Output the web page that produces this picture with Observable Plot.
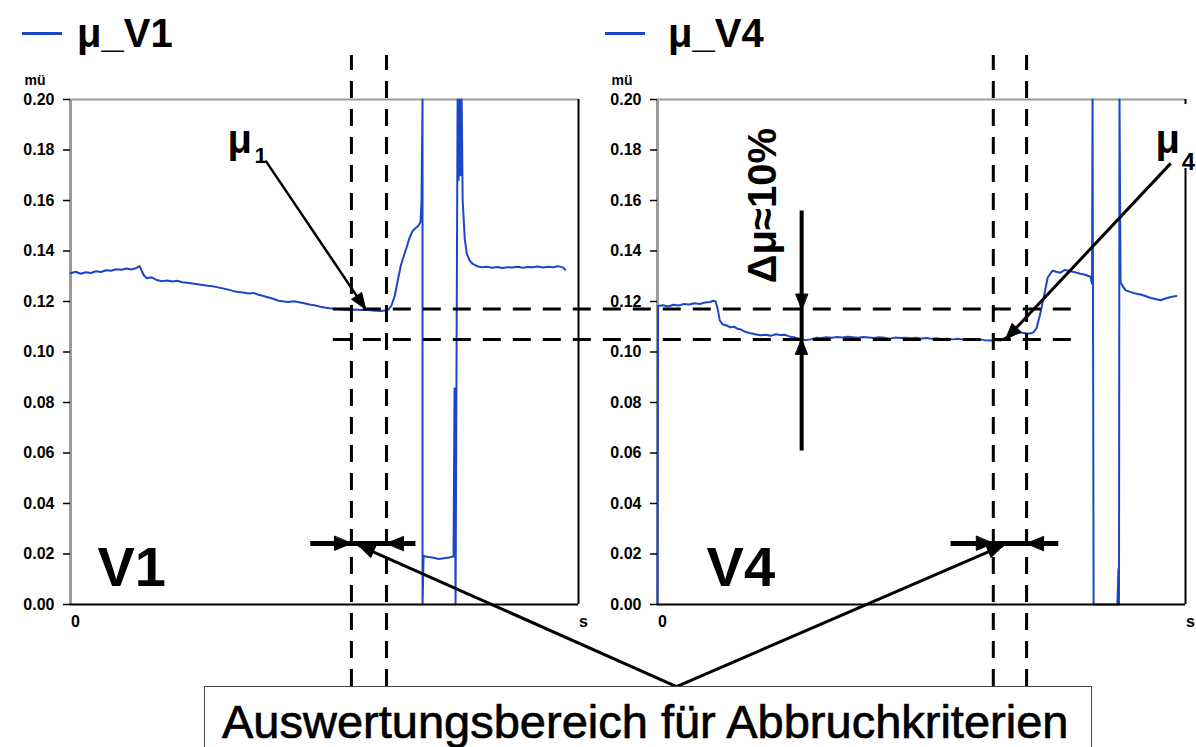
<!DOCTYPE html>
<html>
<head>
<meta charset="utf-8">
<script src="https://cdn.jsdelivr.net/npm/d3@7"></script>
<script src="https://cdn.jsdelivr.net/npm/@observablehq/plot@0.6"></script>
<style>
  html, body { margin: 0; padding: 0; background: #fff; }
  #chart { position: relative; width: 1196px; height: 747px; overflow: hidden;
           font-family: "Liberation Sans", Arial, Helvetica, sans-serif; }
  #chart svg { position: absolute; left: 0; top: 0; }
  .swatch { position: absolute; height: 2.5px; width: 40px; background: #1c46c8; }
  .key { position: absolute; font: bold 40px/40px "Liberation Sans", Arial, sans-serif; color: #000; white-space: nowrap; }
  .box { position: absolute; background: #fff; border: 1.5px solid #444; border-bottom: none; }
  .caption { position: absolute; font: 47px/47px "Liberation Sans", Arial, sans-serif; color: #000; white-space: nowrap;
             -webkit-text-stroke: 0.7px #000; }
</style>
</head>
<body>
<div id="chart"></div>
<script>
// Axis ticks shared by both panels
const yTicks = [0, 0.02, 0.04, 0.06, 0.08, 0.10, 0.12, 0.14, 0.16, 0.18, 0.20];
const xTicks = [0, 100];
const xTickLabels = ["0", "s"];
const seriesNames = ["μ_V1", "μ_V4"];
const panelLabels = ["V1", "V4"];

// Friction coefficient, run V1 (time as % of the run)
const v1Time = [0,1,2,3,4,5,6,7,8,9,10,11,12,13,13.6,14,14.4,15,16,17,18,19,20,21,22,23,24,25,26,27,28,29,30,31,32,33,34,35,36,37,38,39,40,41,42,43,44,45,46,47,48,49,50,51,52,53,54,55,56,57,58,59,60,61,62,62.6,63.2,63.8,64.4,65,65.6,66.1,66.7,67.3,67.9,68.5,68.9,69.1,69.3,69.3,69.5,70.5,71.5,72.5,73.5,74.5,75.4,75.6,75.8,76.2,76.4,76.6,76.8,77.0,77.2,77.6,78.0,78.5,79.1,80,81,82,83,84,85,86,87,88,89,90,91,92,93,94,95,96,97,97.4];
const v1Mu = [0.1312,0.1318,0.1310,0.1316,0.1313,0.1320,0.1317,0.1324,0.1322,0.1328,0.1326,0.1331,0.1327,0.1333,0.1340,0.1322,0.1305,0.1292,0.1296,0.1285,0.1280,0.1283,0.1279,0.1282,0.1276,0.1274,0.1271,0.1268,0.1265,0.1262,0.1260,0.1256,0.1252,0.1247,0.1242,0.1238,0.1236,0.1232,0.1234,0.1227,0.1222,0.1216,0.1210,0.1203,0.1200,0.1198,0.1201,0.1197,0.1193,0.1188,0.1185,0.1180,0.1176,0.1173,0.1171,0.1169,0.1167,0.1165,0.1168,0.1166,0.1167,0.1165,0.1163,0.1162,0.1164,0.1168,0.1185,0.1220,0.1280,0.1340,0.1380,0.1410,0.1450,0.1478,0.1490,0.1500,0.1515,0.1600,0.2000,0.0000,0.0192,0.0188,0.0185,0.0180,0.0183,0.0186,0.0190,0.0855,0.0000,0.2000,0.1680,0.2000,0.1700,0.2000,0.1600,0.1450,0.1390,0.1365,0.1350,0.1340,0.1336,0.1338,0.1334,0.1337,0.1333,0.1336,0.1335,0.1338,0.1334,0.1337,0.1336,0.1339,0.1335,0.1338,0.1336,0.1340,0.1334,0.1326];

// Friction coefficient, run V4
const v4Time = [0,0.1,1,2,3,4,5,6,7,8,9,10,10.6,11.0,11.4,11.8,12.3,13.1,13.8,14.5,15.2,15.9,16.6,17.6,18.5,19.5,20.5,21.4,22.4,23.3,24.2,25.2,26.1,27.1,28.0,29.0,30.0,31,32,33,34,35,36,37,38,39,40,41,42,43,44,45,46,47,48,49,50,51,52,53,54,55,56,57,58,59,60,61,62,63,64,65,66,66.9,67.8,68.7,69.7,70.6,71.3,71.8,72.5,73.3,73.9,74.8,75.5,76.3,77.2,78.2,79.1,80.1,81.0,82.0,82.3,82.4,82.6,87.1,87.3,87.4,87.5,87.7,88.6,89.5,90.5,91.5,92.4,93.4,94.3,95.3,96.2,97.2,98.3];
const v4Mu = [0,0.1182,0.1185,0.1180,0.1187,0.1184,0.1190,0.1188,0.1193,0.1190,0.1196,0.1198,0.1203,0.1200,0.1170,0.1125,0.1110,0.1105,0.1098,0.1100,0.1092,0.1088,0.1080,0.1074,0.1070,0.1066,0.1068,0.1064,0.1070,0.1067,0.1068,0.1060,0.1057,0.1052,0.1047,0.1050,0.1056,0.1055,0.1058,0.1056,0.1059,0.1057,0.1060,0.1058,0.1056,0.1059,0.1057,0.1055,0.1058,0.1056,0.1053,0.1057,0.1055,0.1056,0.1054,0.1056,0.1053,0.1055,0.1052,0.1054,0.1051,0.1053,0.1050,0.1052,0.1049,0.1051,0.1048,0.1050,0.1047,0.1046,0.1048,0.1046,0.1058,0.1065,0.1072,0.1077,0.1074,0.1073,0.1080,0.1095,0.1152,0.1232,0.1295,0.1322,0.1318,0.1314,0.1325,0.1320,0.1316,0.1310,0.1306,0.1298,0.1270,0.2000,0.0000,0.0000,0.0140,0.0000,0.2000,0.1275,0.1245,0.1238,0.1232,0.1228,0.1222,0.1214,0.1210,0.1205,0.1212,0.1218,0.1222];

// Reference levels: μ1 (end of V1) and μ4 (end of V4)
const muLevels = [0.117, 0.105];
// Evaluation windows (start, end) in each run
const v1Window = [55.3, 62.2];
const v4Window = [63.6, 69.9];
const deltaLabel = "Δμ≈10%";
const captionText = "Auswertungsbereich für Abbruchkriterien";

const W = 1196, H = 747, MT = 99, MB = 143;
const BLUE = "#1c46c8";
const FONT = "'Liberation Sans', Arial, Helvetica, sans-serif";
const layout = {
  v1: {marginLeft: 70, marginRight: 618},
  v4: {marginLeft: 657, marginRight: 11}
};

// Same mapping the panel uses, for orienting arrowheads in screen space
function scalesFor(p) {
  return [
    Plot.scale({x: {domain: [0, 100], range: [p.marginLeft, W - p.marginRight]}}),
    Plot.scale({y: {domain: [0, 0.2], range: [H - MB, MT]}})
  ];
}
function heading(p, from, to) {
  const [sx, sy] = scalesFor(p);
  const dx = sx.apply(to[0]) - sx.apply(from[0]);
  const dy = sy.apply(to[1]) - sy.apply(from[1]);
  return Math.atan2(dx, -dy) * 180 / Math.PI;
}
const triangle = (half) => ({
  draw(context, length) {
    context.moveTo(0, -length);
    context.lineTo(half, 0);
    context.lineTo(-half, 0);
    context.closePath();
  }
});
function shafts(list) {
  return list.map(s => Plot.link([s], {
    x1: d => d.from[0], y1: d => d.from[1], x2: d => d.to[0], y2: d => d.to[1],
    stroke: "black", strokeWidth: s.width, strokeLinecap: "butt"
  }));
}
function heads(p, list) {
  return list.map(h => Plot.vector([h], {
    x: d => d.at[0], y: d => d.at[1], length: h.length, anchor: "end",
    rotate: heading(p, h.from, h.at), shape: triangle(h.half),
    fill: "black", stroke: "black", strokeWidth: 1, strokeLinejoin: "miter"
  }));
}

function panel(p, time, mu, extra) {
  return Plot.plot({
    width: W, height: H,
    marginLeft: p.marginLeft, marginRight: p.marginRight, marginTop: MT, marginBottom: MB,
    x: {domain: [0, 100]},
    y: {domain: [0, 0.2]},
    style: {fontFamily: FONT, fontSize: "16px", fontWeight: "bold", background: "transparent", overflow: "visible", color: "black"},
    marks: [
      Plot.ruleY([0.2], {stroke: "#9a9a9a", strokeWidth: 2}),
      Plot.ruleX([0], {stroke: "#9a9a9a", strokeWidth: 3}),
      Plot.line(time, {x: time, y: mu, stroke: BLUE, strokeWidth: 2}),
      Plot.ruleY([0], {stroke: "black", strokeWidth: 2}),
      Plot.axisY({ticks: yTicks, tickFormat: d3.format(".2f"), tickSize: 7, tickPadding: 9, label: null, strokeWidth: 1.5}),
      Plot.axisX({ticks: xTicks, tickFormat: d => xTickLabels[xTicks.indexOf(d)], tickSize: 0, tickPadding: 11, label: null, dx: 5}),
      Plot.text(["mü"], {frameAnchor: "top-left", dx: -46, dy: -24, fontSize: 14, fontWeight: "bold"}),
      ...extra
    ]
  });
}

const bigText = (datum, opts) => Plot.text([datum], {x: "x", y: "y", text: "t", fontWeight: "bold", textAnchor: "start", lineAnchor: "bottom", ...opts});

// Left panel: run V1
const left = panel(layout.v1, v1Time, v1Mu, [
  Plot.ruleX([100], {stroke: "black", strokeWidth: 2}),
  Plot.ruleX(v1Window, {y1: -0.0325, y2: 0.2174, stroke: "black", strokeWidth: 3, strokeDasharray: "17,11"}),
  bigText({x: 5.3, y: 0.0075, t: panelLabels[0]}, {fontSize: 56}),
  bigText({x: 30.9, y: 0.179, t: "μ"}, {fontSize: 40}),
  bigText({x: 36.2, y: 0.1747, t: "1"}, {fontSize: 22}),
  ...shafts([
    {from: [38.4, 0.1758], to: [58.1, muLevels[0]], width: 2.5},
    {from: [47.2, 0.0242], to: [67.9, 0.0242], width: 5},
    {from: [119.3, -0.0325], to: [56.7, 0.0234], width: 3}
  ]),
  ...heads(layout.v1, [
    {at: [58.1, muLevels[0]], from: [38.4, 0.1758], length: 16, half: 6},
    {at: [v1Window[0], 0.0242], from: [47.2, 0.0242], length: 17, half: 7},
    {at: [v1Window[1], 0.0242], from: [67.9, 0.0242], length: 17, half: 7},
    {at: [56.7, 0.0234], from: [119.3, -0.0325], length: 16, half: 6}
  ])
]);

// Right panel: run V4, with the two reference levels carried across both panels
const right = panel(layout.v4, v4Time, v4Mu, [
  Plot.ruleX([100], {y1: 0, y2: 0.1727, stroke: "black", strokeWidth: 2}),
  Plot.ruleX([100], {y1: 0.198, y2: 0.2, stroke: "black", strokeWidth: 2}),
  Plot.ruleX(v4Window, {y1: -0.0325, y2: 0.2174, stroke: "black", strokeWidth: 3, strokeDasharray: "17,11"}),
  Plot.ruleY(muLevels, {x1: -61.4, x2: 80.1, stroke: "black", strokeWidth: 3, strokeDasharray: "18,12"}),
  bigText({x: 9.3, y: 0.0075, t: panelLabels[1]}, {fontSize: 56}),
  bigText({x: 94.3, y: 0.179, t: "μ"}, {fontSize: 40}),
  bigText({x: 99.3, y: 0.1719, t: "4"}, {fontSize: 24}),
  Plot.text([deltaLabel], {x: 20.1, y: 0.158, rotate: -90, fontSize: 40, fontWeight: "bold", textAnchor: "middle", lineAnchor: "middle"}),
  ...shafts([
    {from: [97.2, 0.1747], to: [65.9, muLevels[1]], width: 3},
    {from: [27.3, 0.156], to: [27.3, 0.061], width: 4},
    {from: [55.5, 0.0242], to: [75.9, 0.0242], width: 5},
    {from: [3.6, -0.0325], to: [65.5, 0.0234], width: 3}
  ]),
  ...heads(layout.v4, [
    {at: [65.9, muLevels[1]], from: [97.2, 0.1747], length: 16, half: 6},
    {at: [27.3, muLevels[0]], from: [27.3, 0.156], length: 15, half: 6},
    {at: [27.3, muLevels[1]], from: [27.3, 0.061], length: 15, half: 6},
    {at: [v4Window[0], 0.0242], from: [55.5, 0.0242], length: 17, half: 7},
    {at: [v4Window[1], 0.0242], from: [75.9, 0.0242], length: 17, half: 7},
    {at: [65.5, 0.0234], from: [3.6, -0.0325], length: 16, half: 6}
  ])
]);

const chart = document.getElementById("chart");
chart.append(left, right);

// Series keys above each panel
[[22, 77, seriesNames[0]], [605, 668, seriesNames[1]]].forEach(([lx, tx, name]) => {
  const sw = document.createElement("div");
  sw.className = "swatch";
  sw.style.left = lx + "px"; sw.style.top = "32px";
  const key = document.createElement("div");
  key.className = "key";
  key.style.left = tx + "px"; key.style.top = "13px";
  key.textContent = name;
  chart.append(sw, key);
});

// Caption box below the panels
const box = document.createElement("div");
box.className = "box";
Object.assign(box.style, {left: "204px", top: "686px", width: "886px", height: "70px"});
const cap = document.createElement("div");
cap.className = "caption";
Object.assign(cap.style, {left: "222px", top: "698px"});
cap.textContent = captionText;
chart.append(box, cap);
</script>
</body>
</html>
